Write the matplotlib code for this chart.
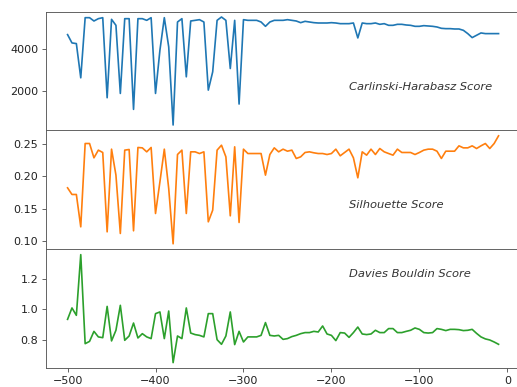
import matplotlib
matplotlib.use("Agg")
import matplotlib.pyplot as plt

# number of features removed (x axis)
n_feat = list(range(-500, -5, 5))

ch_score = [4704, 4304, 4272, 2625, 5519, 5519, 5359, 5471, 5519, 1666,
            5439, 5151, 1873, 5471, 5471, 1106, 5471, 5471, 5391, 5519,
            1873, 3952, 5519, 4112, 354, 5311, 5471, 2673, 5359, 5391,
            5423, 5311, 2033, 2913, 5391, 5551, 5391, 3073, 5391, 1362,
            5423, 5391, 5391, 5391, 5311, 5103, 5311, 5391, 5391, 5391,
            5423, 5391, 5359, 5279, 5343, 5311, 5279, 5263, 5263, 5263,
            5279, 5263, 5231, 5231, 5231, 5263, 4544, 5263, 5231, 5231,
            5263, 5199, 5231, 5151, 5151, 5199, 5199, 5167, 5151, 5103,
            5103, 5135, 5119, 5103, 5071, 5007, 4991, 4991, 4975, 4975,
            4911, 4752, 4560, 4672, 4784, 4752, 4752, 4752, 4752]

sil_score = [0.1819, 0.1717, 0.1717, 0.1220, 0.2500, 0.2500, 0.2280, 0.2398, 0.2362, 0.1143,
             0.2413, 0.2014, 0.1118, 0.2398, 0.2408, 0.1159, 0.2439, 0.2433, 0.2372, 0.2439,
             0.1425, 0.1911, 0.2413, 0.1809, 0.0959, 0.2331, 0.2398, 0.1425, 0.2372, 0.2372,
             0.2346, 0.2372, 0.1297, 0.1476, 0.2398, 0.2474, 0.2295, 0.1389, 0.2449, 0.1287,
             0.2413, 0.2346, 0.2346, 0.2346, 0.2346, 0.2014, 0.2331, 0.2433, 0.2372, 0.2413,
             0.2382, 0.2398, 0.2270, 0.2295, 0.2362, 0.2372, 0.2357, 0.2346, 0.2346, 0.2331,
             0.2346, 0.2413, 0.2311, 0.2362, 0.2413, 0.2280, 0.1973, 0.2372, 0.2321, 0.2413,
             0.2331, 0.2423, 0.2372, 0.2346, 0.2321, 0.2413, 0.2362, 0.2362, 0.2362, 0.2331,
             0.2362, 0.2398, 0.2413, 0.2413, 0.2382, 0.2270, 0.2382, 0.2382, 0.2382, 0.2464,
             0.2433, 0.2433, 0.2464, 0.2423, 0.2464, 0.2500, 0.2423, 0.2500, 0.2618]

db_score = [0.935, 1.009, 0.961, 1.355, 0.777, 0.792, 0.857, 0.821, 0.816, 1.019,
            0.795, 0.864, 1.026, 0.799, 0.827, 0.911, 0.814, 0.842, 0.821, 0.810,
            0.972, 0.983, 0.810, 0.989, 0.654, 0.827, 0.810, 1.009, 0.846, 0.836,
            0.831, 0.821, 0.972, 0.972, 0.803, 0.773, 0.827, 0.983, 0.771, 0.857,
            0.788, 0.821, 0.821, 0.821, 0.831, 0.914, 0.831, 0.827, 0.831, 0.805,
            0.810, 0.823, 0.831, 0.842, 0.849, 0.849, 0.857, 0.853, 0.892, 0.840,
            0.831, 0.797, 0.849, 0.846, 0.818, 0.849, 0.885, 0.840, 0.836, 0.840,
            0.864, 0.849, 0.849, 0.875, 0.875, 0.849, 0.849, 0.857, 0.864, 0.879,
            0.870, 0.849, 0.846, 0.849, 0.875, 0.870, 0.862, 0.870, 0.870, 0.868,
            0.862, 0.864, 0.870, 0.844, 0.821, 0.808, 0.801, 0.788, 0.773]

labels = ["Carlinski-Harabasz Score", "Silhouette Score", "Davies Bouldin Score"]
label_y = [2200, 0.155, 1.23]

plt.rcParams["axes.edgecolor"] = "#555555"
plt.rcParams["xtick.color"] = "#555555"
plt.rcParams["ytick.color"] = "#555555"
plt.rcParams["xtick.labelcolor"] = "#222222"
plt.rcParams["ytick.labelcolor"] = "#222222"

fig, axs = plt.subplots(3, 1, sharex=True, figsize=(517 / 80, 387 / 80), dpi=80)
fig.subplots_adjust(left=0.089, right=1.006, top=0.970, bottom=0.049, hspace=0)

for i, (ax, y) in enumerate(zip(axs, [ch_score, sil_score, db_score])):
    ax.plot(n_feat, y, color="C%d" % i)
    ax.text(-180, label_y[i], labels[i], style="italic", va="center",
            fontsize=10.3, color="#333333")

axs[2].set_xticks([-500, -400, -300, -200, -100, 0])
axs[0].set_yticks([2000, 4000])
axs[1].set_yticks([0.10, 0.15, 0.20, 0.25])
axs[2].set_yticks([0.8, 1.0, 1.2])

fig.savefig("out.png", dpi=80)
